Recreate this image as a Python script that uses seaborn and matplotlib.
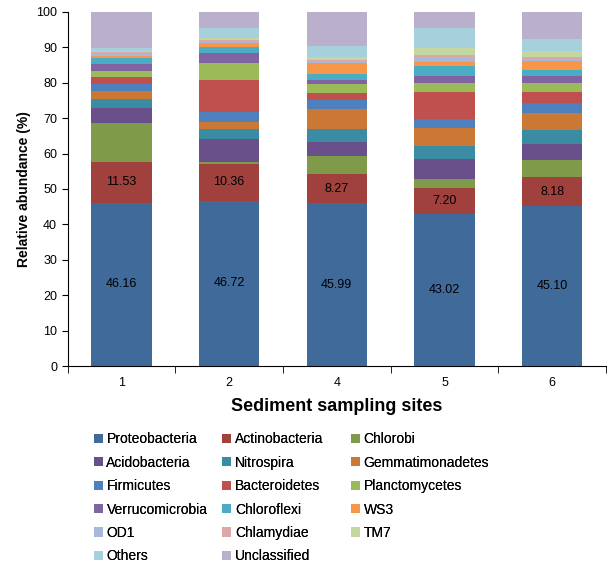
"""Stacked relative abundance of phyla per sediment site"""

import matplotlib
matplotlib.use("Agg")
import matplotlib.pyplot as plt
import numpy as np
import pandas as pd
import seaborn as sns
from matplotlib.patches import Patch

sites = ["1", "2", "4", "5", "6"]
phyla = [
    "Proteobacteria", "Actinobacteria", "Chlorobi",
    "Acidobacteria", "Nitrospira", "Gemmatimonadetes",
    "Firmicutes", "Bacteroidetes", "Planctomycetes",
    "Verrucomicrobia", "Chloroflexi", "WS3",
    "OD1", "Chlamydiae", "TM7",
    "Others", "Unclassified",
]
proteobacteria = [46.16, 46.72, 45.99, 43.02, 45.10]
actinobacteria = [11.53, 10.36, 8.27, 7.20, 8.18]
chlorobi = [10.8, 0.6, 5.1, 2.6, 4.8]
acidobacteria = [4.5, 6.3, 3.9, 5.6, 4.7]
nitrospira = [2.3, 2.9, 3.8, 3.8, 4.0]
gemmatimonadetes = [2.3, 1.9, 5.4, 4.9, 4.7]
firmicutes = [2.1, 3.0, 2.7, 2.7, 2.8]
bacteroidetes = [1.8, 9.0, 1.9, 7.5, 3.0]
planctomycetes = [1.9, 4.7, 2.6, 2.5, 2.5]
verrucomicrobia = [1.9, 3.0, 1.1, 2.1, 2.0]
chloroflexi = [1.6, 1.5, 1.7, 2.7, 1.9]
ws3 = [0.7, 1.1, 3.0, 1.2, 2.4]
od1 = [0.6, 0.8, 0.6, 1.5, 0.6]
chlamydiae = [0.5, 0.2, 0.3, 0.5, 0.6]
tm7 = [0.2, 0.6, 0.8, 1.9, 1.6]
others = [1.0, 2.8, 3.3, 5.6, 3.5]
unclassified = [10.1, 4.5, 9.54, 4.68, 7.62]

colors = [
    "#3F6A9A", "#A0413E", "#7F9A48",
    "#69508A", "#3A8CA3", "#CB7835",
    "#4D80BD", "#C0504D", "#9BBB59",
    "#8064A2", "#4BACC6", "#F79646",
    "#A9B8DA", "#DBA8A7", "#C4D7A1",
    "#A7D0DD", "#BAB0CC",
]

values = [
    proteobacteria, actinobacteria, chlorobi, acidobacteria, nitrospira,
    gemmatimonadetes, firmicutes, bacteroidetes, planctomycetes,
    verrucomicrobia, chloroflexi, ws3, od1, chlamydiae, tm7, others,
    unclassified,
]


def main():
    """Do things"""
    plt.rcParams["font.family"] = ["Liberation Sans", "DejaVu Sans"]
    df = pd.DataFrame(np.array(values).T, columns=phyla)
    df["site"] = sites
    cum = df[phyla].cumsum(axis=1)

    fig = plt.figure(figsize=(6.14, 5.65), dpi=100)
    ax = fig.add_axes([0.110, 0.352, 0.877, 0.627])
    # draw the tallest cumulative bar first, then overdraw downwards
    for name, color in reversed(list(zip(phyla, colors))):
        sns.barplot(
            x=df["site"], y=cum[name], color=color, width=0.56,
            saturation=1, ax=ax, linewidth=0,
        )

    # labels for the two lowest segments
    for i in range(len(sites)):
        p = proteobacteria[i]
        a = actinobacteria[i]
        ax.text(i, p / 2, f"{p:.2f}", ha="center", va="center", fontsize=9)
        ax.text(i, p + a / 2, f"{a:.2f}", ha="center", va="center",
                fontsize=9)

    ax.set_xlim(-0.5, 4.5)
    ax.set_ylim(0, 100)
    ax.set_yticks(range(0, 101, 10))
    ax.set_xticks(range(len(sites)))
    ax.set_xticklabels(sites)
    ax.set_xticks(np.arange(-0.5, 4.6, 1), minor=True)
    ax.tick_params(axis="x", which="major", length=0, labelsize=9, pad=8)
    ax.tick_params(axis="x", which="minor", length=5, direction="out")
    ax.tick_params(axis="y", length=4, labelsize=9)
    for s in ["top", "right"]:
        ax.spines[s].set_visible(False)
    ax.set_ylabel("Relative abundance (%)", fontsize=10, fontweight="bold")
    ax.set_xlabel("Sediment sampling sites", fontsize=13, fontweight="bold",
                  labelpad=6)

    handles = [Patch(facecolor=c, edgecolor="none") for c in colors]
    xs = [0.153, 0.362, 0.572]
    for col in range(3):
        idx = list(range(col, len(phyla), 3))
        leg = fig.legend(
            [handles[k] for k in idx], [phyla[k] for k in idx],
            loc="upper left", bbox_to_anchor=(xs[col], 0.235),
            frameon=False, fontsize=10, handlelength=0.65,
            handleheight=0.65, handletextpad=0.25, labelspacing=0.68,
            borderaxespad=0, borderpad=0,
        )
        fig.add_artist(leg)

    fig.savefig("out.png", dpi=100)


if __name__ == "__main__":
    main()
